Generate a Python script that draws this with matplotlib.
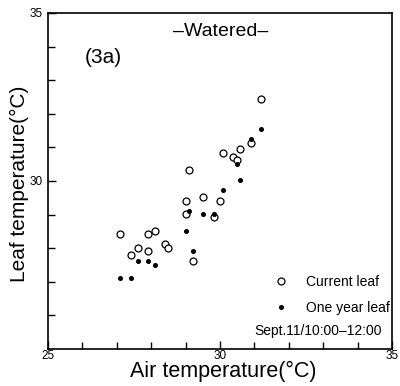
import matplotlib
matplotlib.use('Agg')
import matplotlib.pyplot as plt

plt.rcParams['font.family'] = ['Liberation Sans', 'DejaVu Sans']

# Current leaf (open circles): air temp vs leaf temp
current_air = [31.18, 30.10, 30.39, 30.49, 30.59, 30.89, 29.09, 29.00, 29.51, 30.00,
               29.00, 29.82, 27.09, 27.90, 28.10, 28.40, 28.50, 27.61, 27.91, 27.40, 29.21]
current_leaf = [32.43, 30.84, 30.72, 30.63, 30.94, 31.14, 30.33, 29.41, 29.53, 29.41,
                29.01, 28.92, 28.41, 28.41, 28.51, 28.12, 28.02, 28.02, 27.91, 27.81, 27.61]

# One year leaf (filled dots)
old_air = [31.18, 30.89, 30.49, 30.59, 30.10, 29.11, 29.51, 29.82, 29.00, 29.21,
           27.61, 27.91, 28.10, 27.09, 27.40]
old_leaf = [31.54, 31.24, 30.51, 30.03, 29.73, 29.12, 29.01, 29.02, 28.51, 27.91,
            27.61, 27.61, 27.51, 27.10, 27.10]

fig = plt.figure(figsize=(4.0, 3.86), dpi=100)
ax = fig.add_axes([0.12, 0.0959, 0.86, 0.8705])

ax.plot(current_air, current_leaf, 'o', ls='none', ms=5, mfc='white', mec='black',
        mew=0.9, label='Current leaf')
ax.plot(old_air, old_leaf, 'o', ls='none', ms=2.6, mfc='black', mec='black',
        label='One year leaf')

ax.set_xlim(25, 35)
ax.set_ylim(25, 35)
ax.set_xticks([25, 30, 35])
ax.set_xticks(range(26, 35), minor=True)
ax.set_yticks([30, 35])
ax.set_yticks(range(26, 35), minor=True)
ax.tick_params(which='both', direction='in', top=False, right=False, width=1, labelsize=8.5)
ax.tick_params(axis='x', which='major', length=6, pad=1)
ax.tick_params(axis='x', which='minor', length=5)
ax.tick_params(axis='y', which='major', length=6, pad=4)
ax.tick_params(axis='y', which='minor', length=5)
for s in ax.spines.values():
    s.set_linewidth(1.2)

ax.set_xlabel('Air temperature(°C)', fontsize=15.5)
ax.xaxis.set_label_coords(0.509, -0.036)
ax.set_ylabel('Leaf temperature(°C)', fontsize=15)
ax.yaxis.set_label_coords(-0.056, 0.491)

ax.text(0.503, 0.946, '–Watered–', transform=ax.transAxes, ha='center', va='center', fontsize=14)
ax.text(0.1076, 0.866, '(3a)', transform=ax.transAxes, ha='left', va='center', fontsize=15)
ax.text(0.97, 0.055, 'Sept.11/10:00–12:00', transform=ax.transAxes, ha='right', va='center',
        fontsize=10)

ax.legend(loc='upper left', bbox_to_anchor=(0.637, 0.22), frameon=False, fontsize=10,
          handlelength=2, handletextpad=0.8, labelspacing=0.85, borderpad=0,
          borderaxespad=0)

fig.savefig('out.png', dpi=100)
